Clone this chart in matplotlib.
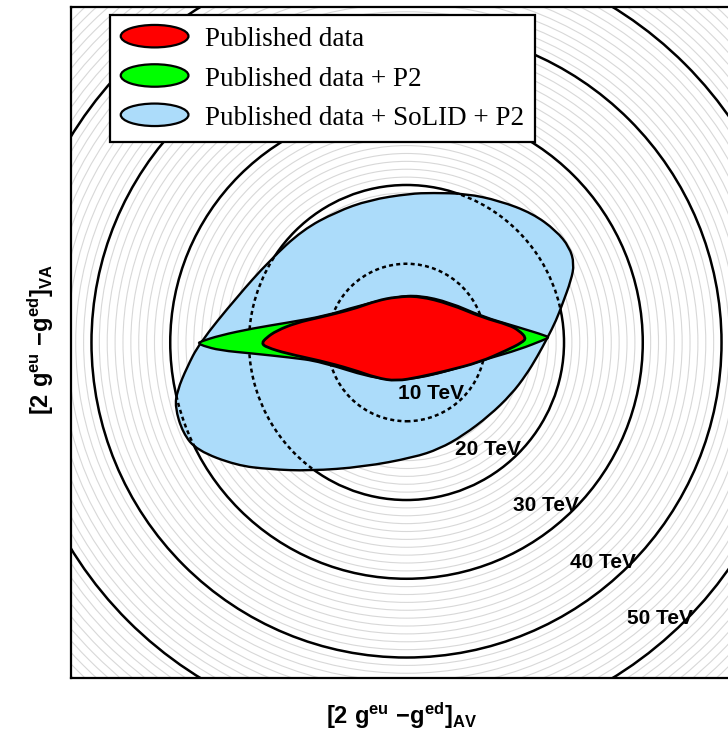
import numpy as np
import matplotlib.pyplot as plt
from matplotlib.patches import PathPatch, Circle, Ellipse
from matplotlib.path import Path
from matplotlib.legend_handler import HandlerPatch

# contour outlines (units: TeV reach)
blue_x = [-26.3, -21.6, -17.4, -13.2, -8.9, -4.7, 0.4, 3.3, 7.6, 11.8, 16.0, 19.0, 20.7, 21.3, 20.9,
          19.8, 19.0, 17.9, 16.6, 15.2, 13.3, 10.5, 7.2, 4.2, 0.9, -5.5, -12.3, -17.4, -21.6, -26.6,
          -28.4, -29.4, -29.1, -27.9]
blue_y = [-0.1, 5.7, 10.4, 14.3, 16.6, 18.1, 18.9, 19.0, 18.9, 18.0, 16.4, 14.2, 12.1, 10.0, 7.9,
          4.9, 2.8, 0.6, -1.8, -4.1, -6.6, -9.3, -11.8, -13.5, -14.6, -15.8, -16.3, -16.1, -15.6, -13.7,
          -11.5, -8.2, -6.1, -3.2]

green_x = [-26.4, -26.2, -23.7, -19.5, -15.2, -10.2, -6.3, -1.3, 1.6, 5.5, 9.6, 14.0, 17.9, 18.0, 17.6, 14.3,
           10.5, 8.0, 1.6, -3.4, -11.0, -14.8, -19.5, -23.7, -25.9]
green_y = [-0.1, 0.1, 0.9, 1.8, 2.5, 3.4, 4.6, 5.8, 6.0, 5.1, 3.3, 2.0, 0.8, 0.6, 0.4, -0.9,
           -2.0, -2.8, -4.6, -4.8, -2.4, -1.9, -1.4, -1.0, -0.4]

red_x = [-18.4, -17.8, -16.5, -14.0, -11.0, -8.9, -6.3, -3.8, -1.3, 1.6, 5.5, 9.6, 13.1, 14.3, 15.2,
         14.7, 12.7, 9.3, 5.1, 1.6, -1.3, -3.8, -6.9, -11.0, -15.2, -17.8]
red_y = [-0.1, 0.6, 1.5, 2.5, 3.2, 3.7, 4.4, 5.3, 5.8, 5.9, 4.9, 3.2, 2.2, 1.5, 0.6,
         0.0, -1.0, -2.5, -3.6, -4.4, -4.9, -4.5, -3.4, -2.3, -1.4, -0.6]

mass_major = [10, 20, 30, 40, 50]
mass_minor = np.arange(1, 61)
labels = ["Published data", "Published data + P2", "Published data + SoLID + P2"]


def smooth_path(xs, ys):
    # closed quadratic-bezier outline using the read points as control points
    p = np.column_stack([xs, ys])
    m = (p + np.roll(p, -1, axis=0)) / 2
    verts = [m[-1]]
    codes = [Path.MOVETO]
    for i in range(len(p)):
        verts += [p[i], m[i]]
        codes += [Path.CURVE3, Path.CURVE3]
    verts.append(m[-1])
    codes.append(Path.CLOSEPOLY)
    return Path(verts, codes)


fig = plt.figure(figsize=(7.28, 7.35), dpi=100)
ax = fig.add_axes([71/728, 57/735, 671/728, 671/735])
ax.set_xlim(-42.6, 42.6)
ax.set_ylim(-42.6, 42.6)
ax.set_xticks([])
ax.set_yticks([])
for s in ax.spines.values():
    s.set_linewidth(1.6)
    s.set_zorder(20)

# thin grey rings every 1 TeV
for r in mass_minor:
    ax.add_patch(Circle((0, 0), r, fill=False, ec='#d8d8d8', lw=0.8, zorder=1))
# black rings every 10 TeV
for r in mass_major:
    ax.add_patch(Circle((0, 0), r, fill=False, ec='black', lw=1.8, zorder=2))

blue = PathPatch(smooth_path(blue_x, blue_y), fc='#acdcfa', ec='black', lw=1.7, zorder=3)
ax.add_patch(blue)
# dashed rings seen through the blue region
for r in mass_major:
    c = Circle((0, 0), r, fill=False, ec='black', lw=1.8, ls=(0, (1.6, 1.3)), zorder=4)
    ax.add_patch(c)
    c.set_clip_path(blue)

green = PathPatch(smooth_path(green_x, green_y), fc='#00ff00', ec='black', lw=1.7, zorder=5)
red = PathPatch(smooth_path(red_x, red_y), fc='#ff0000', ec='black', lw=2.0, zorder=6)
ax.add_patch(green)
ax.add_patch(red)

a = np.deg2rad(-44.5)
for r in mass_major:
    ax.text(1.02*r*np.cos(a), 1.02*r*np.sin(a), f"{r} TeV", ha='right', va='baseline',
            fontsize=15, fontweight='bold', family='Liberation Sans', zorder=7)


class HandlerEllipse(HandlerPatch):
    def create_artists(self, legend, orig_handle, xdescent, ydescent, width, height, fontsize, trans):
        center = 0.5*width - 0.5*xdescent, 0.5*height - 0.5*ydescent
        p = Ellipse(xy=center, width=width, height=height)
        self.update_prop(p, orig_handle, legend)
        p.set_transform(trans)
        return [p]


handles = [Ellipse((0, 0), 1, 1, fc='#ff0000', ec='black', lw=1.6),
           Ellipse((0, 0), 1, 1, fc='#00ff00', ec='black', lw=1.6),
           Ellipse((0, 0), 1, 1, fc='#acdcfa', ec='black', lw=1.6)]
leg = ax.legend(handles, labels, handler_map={Ellipse: HandlerEllipse()},
                loc='upper left', bbox_to_anchor=(0.058, 0.988), borderaxespad=0,
                prop={'family': 'Liberation Serif', 'size': 19.5},
                handlelength=2.5, handleheight=0.9, handletextpad=0.6,
                labelspacing=0.47, borderpad=0.4, fancybox=False, framealpha=1)
leg.get_frame().set_edgecolor('black')
leg.get_frame().set_linewidth(1.6)
leg.set_zorder(30)

plt.rcParams['mathtext.fontset'] = 'custom'
plt.rcParams['mathtext.bf'] = 'Liberation Sans:bold'
plt.rcParams['mathtext.rm'] = 'Liberation Sans:bold'
plt.rcParams['mathtext.it'] = 'Liberation Sans:bold'
fig.text(401/728, 1 - 716/735, r'$\mathbf{[2\ g^{eu}\ {-}g^{ed}]_{AV}}$', ha='center', va='center',
         fontsize=17)
fig.text(41/728, 1 - 340/735, r'$\mathbf{[2\ g^{eu}\ {-}g^{ed}]_{VA}}$', ha='center', va='center',
         fontsize=17, rotation=90)

fig.savefig('out.png', dpi=100)
